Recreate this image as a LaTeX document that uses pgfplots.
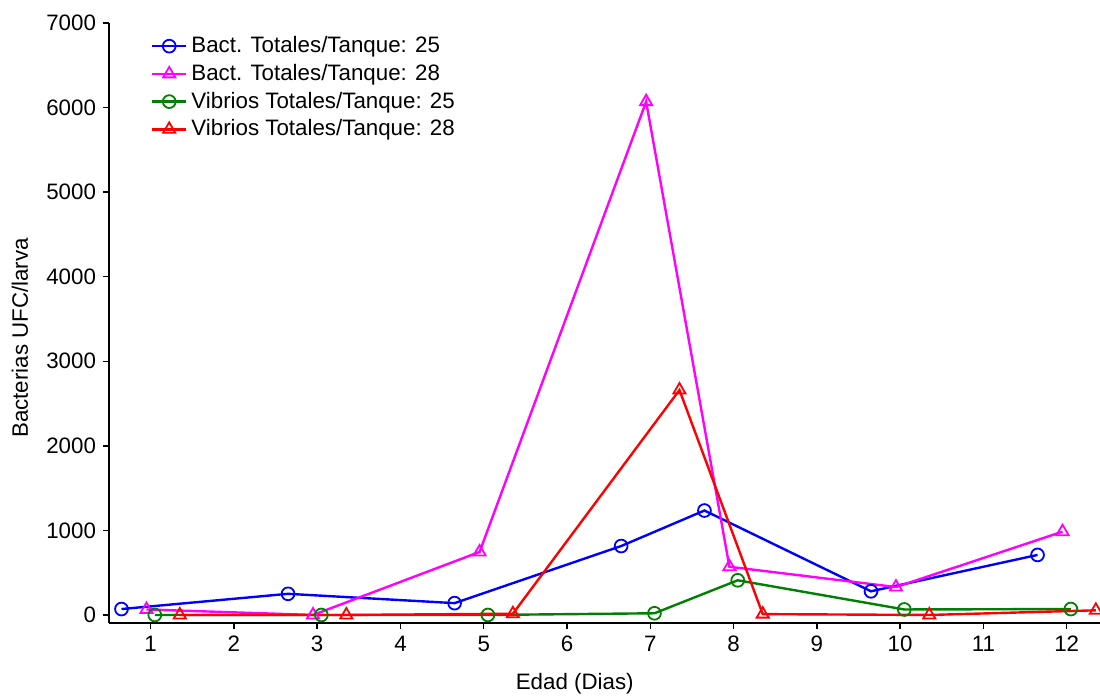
\documentclass[border=0pt]{standalone}
\usepackage{fontspec}
\setmainfont{Liberation Sans}
\usepackage{pgfplots}
\pgfplotsset{compat=1.18}
\definecolor{cblue}{RGB}{0,0,255}
\definecolor{cmag}{RGB}{255,0,255}
\definecolor{cgreen}{RGB}{0,128,0}
\definecolor{cred}{RGB}{255,0,0}
\begin{document}
\begin{tikzpicture}
\useasboundingbox (-54.5bp,-37bp) rectangle (495.5bp,311.5bp);
\begin{axis}[
  at={(0,0)}, anchor=south west,
  scale only axis,
  width=495.5bp, height=300bp,
  xmin=0.5, xmax=12.4,
  ymin=-95, ymax=7000,
  axis x line*=bottom, axis y line*=left,
  axis line style={black, line width=0.7bp, -},
  xtick={1,...,12},
  ytick={0,1000,...,7000},
  tick align=outside,
  major tick length=3bp,
  tick style={black, line width=0.7bp},
  /pgf/number format/assume math mode=true,
  /pgf/number format/1000 sep={},
  tick label style={font=\fontsize{11.2}{13}\selectfont},
  label style={font=\fontsize{11.2}{13}\selectfont},
  xlabel={Edad (Dias)},
  ylabel={Bacterias UFC/larva},
  xlabel style={at={(axis description cs:0.47,0)}, anchor=center, yshift=-30.5bp},
  ylabel style={at={(axis description cs:0,0.475)}, anchor=center, yshift=44.5bp},
  legend style={draw=none, fill=none, at={(axis description cs:0.04,0.988)}, anchor=north west,
    font=\fontsize{11.2}{13}\selectfont, row sep=0.3bp, inner sep=1bp},
  legend cell align=left,
  every axis plot/.append style={line width=1.2bp},
  clip=false,
]
\addplot[cblue, mark=o, mark size=3.2bp, mark options={line width=0.9bp}] coordinates {
 (0.65,70) (2.65,250) (4.65,140) (6.65,815) (7.65,1235) (9.65,280) (11.65,710)};
\addlegendentry{Bact. Totales/Tanque: 25}
\addplot[cmag, mark=triangle, mark size=3.5bp, mark options={line width=0.9bp}] coordinates {
 (0.95,65) (2.95,0) (4.95,745) (6.95,6070) (7.95,570) (9.95,330) (11.95,985)};
\addlegendentry{Bact. Totales/Tanque: 28}
\addplot[cgreen, mark=o, mark size=3.2bp, mark options={line width=0.9bp}] coordinates {
 (1.05,0) (3.05,0) (5.05,0) (7.05,20) (8.05,410) (10.05,65) (12.05,70)};
\addlegendentry{Vibrios Totales/Tanque: 25}
\addplot[cred, mark=triangle, mark size=3.5bp, mark options={line width=0.9bp}] coordinates {
 (1.35,0) (3.35,0) (5.35,15) (7.35,2660) (8.35,10) (10.35,0) (12.35,55)};
\addlegendentry{Vibrios Totales/Tanque: 28}
\end{axis}
\end{tikzpicture}
\end{document}
